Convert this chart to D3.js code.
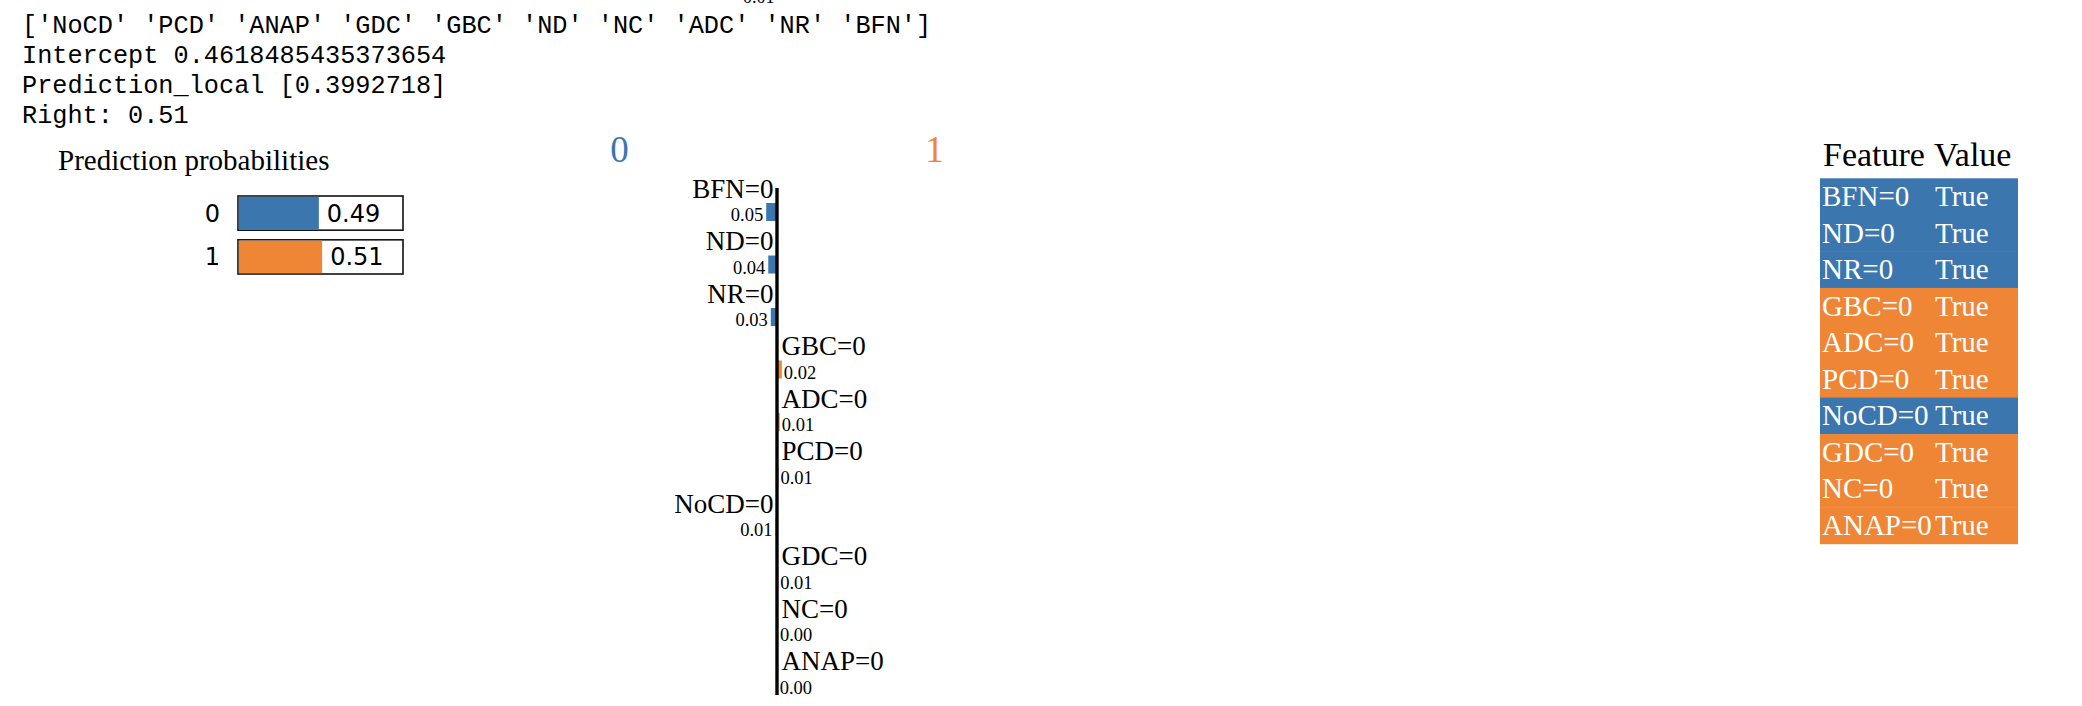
<!DOCTYPE html>
<html>
<head>
<meta charset="utf-8">
<script src="https://cdn.jsdelivr.net/npm/d3@7"></script>
<style>
  html, body { margin: 0; padding: 0; background: #fff; overflow: hidden; }
</style>
</head>
<body>
<svg id="chart" width="2082" height="706"></svg>
<script>
// ---------- data ----------
const outputLines = [
  "['NoCD' 'PCD' 'ANAP' 'GDC' 'GBC' 'ND' 'NC' 'ADC' 'NR' 'BFN']",
  "Intercept 0.4618485435373654",
  "Prediction_local [0.3992718]",
  "Right: 0.51"
];
const probClasses = ["0", "1"];
const probValues = [0.49, 0.51];
const classTitles = ["0", "1"];
const featNames = ["BFN=0", "ND=0", "NR=0", "GBC=0", "ADC=0", "PCD=0", "NoCD=0", "GDC=0", "NC=0", "ANAP=0"];
const featWeights = [-0.047, -0.038, -0.027, 0.021, 0.012, 0.006, -0.006, 0.005, 0.004, 0.003];
const featValues = ["True", "True", "True", "True", "True", "True", "True", "True", "True", "True"];
const tableHeader = ["Feature", "Value"];
const clippedTopText = "0.01";

// ---------- style ----------
const BLUE = "#3b76af";
const ORANGE = "#ef8636";
const SERIF = "'Liberation Serif', 'Times New Roman', serif";
const SANS = "'DejaVu Sans', Verdana, sans-serif";
const MONO = "'Courier New', 'Liberation Mono', monospace";

const svg = d3.select("#chart");

// clipped text remnant at the very top
svg.append("text").attr("x", 743).attr("y", 2.5)
  .attr("font-family", SERIF).attr("font-size", 18).attr("fill", "#000")
  .text(clippedTopText);

// ---------- console output lines ----------
const lineY = d3.scaleLinear().domain([0, 1]).range([33, 63]);
svg.append("g").selectAll("text").data(outputLines).join("text")
  .attr("x", 22)
  .attr("y", (d, i) => lineY(i))
  .attr("font-family", MONO)
  .attr("font-size", 25.25)
  .attr("fill", "#000")
  .attr("xml:space", "preserve")
  .style("white-space", "pre")
  .text(d => d);

// ---------- prediction probabilities ----------
const pp = svg.append("g");
pp.append("text").attr("x", 58).attr("y", 170)
  .attr("font-family", SERIF).attr("font-size", 29).attr("fill", "#000")
  .text("Prediction probabilities");

const px = d3.scaleLinear().domain([0, 1]).range([238, 403]);
const py = d3.scaleBand().domain(probClasses).range([196, 274]).paddingInner(0.22).paddingOuter(0);
const probColors = [BLUE, ORANGE];
const prow = pp.selectAll("g.prow").data(probClasses).join("g").attr("class", "prow");
prow.append("rect")
  .attr("x", px(0)).attr("y", d => py(d))
  .attr("width", px(1) - px(0)).attr("height", py.bandwidth())
  .attr("fill", "#fff").attr("stroke", "#111").attr("stroke-width", 1.6);
prow.append("rect")
  .attr("x", px(0) + 0.8).attr("y", d => py(d) + 0.8)
  .attr("width", (d, i) => px(probValues[i]) - px(0) - 0.8)
  .attr("height", py.bandwidth() - 1.6)
  .attr("fill", (d, i) => probColors[i]);
prow.append("text")
  .attr("x", 220).attr("y", d => py(d) + 25.5)
  .attr("text-anchor", "end")
  .attr("font-family", SANS).attr("font-size", 24).attr("fill", "#000")
  .text(d => d);
prow.append("text")
  .attr("x", (d, i) => px(probValues[i]) + 8).attr("y", d => py(d) + 25.5)
  .attr("font-family", SANS).attr("font-size", 24).attr("fill", "#000")
  .text((d, i) => probValues[i].toFixed(2));

// ---------- explanation bar chart ----------
const ex = svg.append("g");
const xw = d3.scaleLinear().domain([-1, 1]).range([777 - 230, 777 + 230]);
const yr = d3.scaleLinear().domain([0, 1]).range([169, 169 + 52.5]);
const barH = 18;

ex.append("text").attr("x", xw(0) - 157.5).attr("y", 162)
  .attr("text-anchor", "middle").attr("font-family", SERIF).attr("font-size", 37)
  .attr("fill", BLUE).text(classTitles[0]);
ex.append("text").attr("x", xw(0) + 157.5).attr("y", 162)
  .attr("text-anchor", "middle").attr("font-family", SERIF).attr("font-size", 37)
  .attr("fill", ORANGE).text(classTitles[1]);

const rows = ex.selectAll("g.frow").data(featNames).join("g").attr("class", "frow");
rows.append("rect")
  .attr("x", (d, i) => Math.min(xw(0), xw(featWeights[i])))
  .attr("y", (d, i) => yr(i) + 34)
  .attr("width", (d, i) => Math.abs(xw(featWeights[i]) - xw(0)))
  .attr("height", barH)
  .attr("fill", (d, i) => featWeights[i] < 0 ? BLUE : ORANGE);
rows.append("text")
  .attr("x", (d, i) => featWeights[i] < 0 ? xw(0) - 3.5 : xw(0) + 4.5)
  .attr("y", (d, i) => yr(i) + 28.5)
  .attr("text-anchor", (d, i) => featWeights[i] < 0 ? "end" : "start")
  .attr("font-family", SERIF).attr("font-size", 27).attr("fill", "#000")
  .text(d => d);
rows.append("text")
  .attr("x", (d, i) => featWeights[i] < 0 ? xw(featWeights[i]) - 3 : xw(featWeights[i]) + 2)
  .attr("y", (d, i) => yr(i) + 34 + barH)
  .attr("text-anchor", (d, i) => featWeights[i] < 0 ? "end" : "start")
  .attr("font-family", SERIF).attr("font-size", 18.5).attr("fill", "#000")
  .text((d, i) => Math.abs(featWeights[i]).toFixed(2));

ex.append("line")
  .attr("x1", xw(0)).attr("x2", xw(0))
  .attr("y1", 188).attr("y2", yr(featNames.length) + 1)
  .attr("stroke", "#000").attr("stroke-width", 3.4);

// ---------- feature / value table ----------
const tb = svg.append("g");
const colX = [1823, 1934];
tb.selectAll("text.hdr").data(tableHeader).join("text").attr("class", "hdr")
  .attr("x", (d, i) => colX[i]).attr("y", 166)
  .attr("font-family", SERIF).attr("font-size", 34).attr("fill", "#000")
  .text(d => d);
const ty = d3.scaleBand().domain(d3.range(featNames.length)).range([178.3, 543.7]);
const trow = tb.selectAll("g.trow").data(featNames).join("g").attr("class", "trow");
trow.append("rect")
  .attr("x", 1820).attr("y", (d, i) => ty(i))
  .attr("width", 2018 - 1820).attr("height", ty.bandwidth() + 0.5)
  .attr("fill", (d, i) => featWeights[i] < 0 ? BLUE : ORANGE);
trow.append("text")
  .attr("x", colX[0] - 1).attr("y", (d, i) => ty(i) + 27.7)
  .attr("font-family", SERIF).attr("font-size", 29).attr("fill", "#fff")
  .text(d => d);
trow.append("text")
  .attr("x", colX[1] + 1).attr("y", (d, i) => ty(i) + 27.7)
  .attr("font-family", SERIF).attr("font-size", 29).attr("fill", "#fff")
  .text((d, i) => featValues[i]);
</script>
</body>
</html>
